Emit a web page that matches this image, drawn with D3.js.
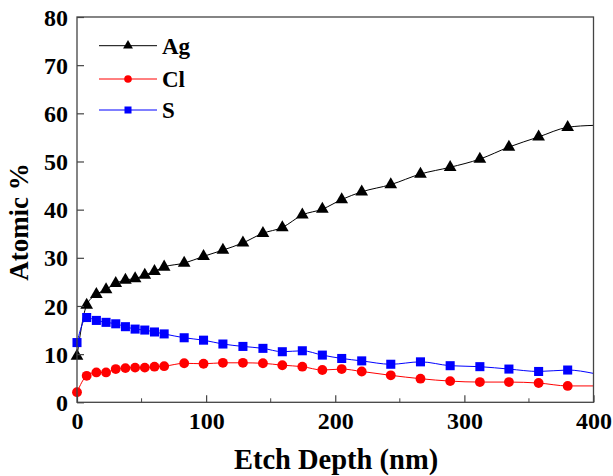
<!DOCTYPE html>
<html>
<head>
<meta charset="utf-8">
<script src="https://cdn.jsdelivr.net/npm/d3@7"></script>
<style>
  html, body { margin: 0; padding: 0; background: #fff; }
  svg { display: block; }
</style>
</head>
<body>
<svg id="chart" width="613" height="476"></svg>
<script>
// ---- data ----
const depth = [0, 7.5, 15, 22.5, 30, 37.5, 45, 52.5, 60, 67.5, 83, 98, 113, 128.5, 144, 159, 174.5, 190, 205, 220.5, 243, 266, 289, 312, 334.5, 357.5, 380, 400];
const agValues = [9.6, 20.2, 22.4, 23.4, 24.7, 25.4, 25.7, 26.4, 27.2, 28.1, 28.9, 30.3, 31.6, 33.1, 35.1, 36.3, 38.9, 40.1, 42.1, 43.7, 45.2, 47.4, 48.8, 50.5, 53.0, 55.1, 57.1, 57.5];
const clValues = [2.1, 5.5, 6.2, 6.2, 6.9, 7.1, 7.2, 7.2, 7.4, 7.5, 8.1, 8.0, 8.2, 8.2, 8.1, 7.7, 7.4, 6.7, 6.9, 6.4, 5.6, 4.9, 4.4, 4.2, 4.2, 4.0, 3.4, 3.4];
const sValues = [12.4, 17.6, 17.0, 16.6, 16.3, 15.7, 15.2, 15.0, 14.6, 14.2, 13.4, 12.9, 12.1, 11.6, 11.2, 10.5, 10.7, 9.8, 9.1, 8.6, 7.9, 8.4, 7.6, 7.4, 6.9, 6.4, 6.7, 6.0];
const seriesNames = ["Ag", "Cl", "S"];
const seriesColors = ["#000000", "#ff0000", "#0000ff"];
const seriesSymbols = ["triangle", "circle", "square"];
const xTicks = [0, 100, 200, 300, 400];
const xMinorTicks = [50, 150, 250, 350];
const yTicks = [0, 10, 20, 30, 40, 50, 60, 70, 80];
const xTitle = "Etch Depth (nm)";
const yTitle = "Atomic %";

// ---- layout ----
const svg = d3.select("#chart");
const L = 77, R = 593.5, T = 17, B = 402.3;
const x = d3.scaleLinear().domain([0, 400]).range([L, R]);
const y = d3.scaleLinear().domain([0, 80]).range([B, T]);
const font = "'Liberation Serif', 'Times New Roman', serif";
const axisColor = "#444";

const series = [agValues, clValues, sValues].map((vals, i) => ({
  name: seriesNames[i],
  color: seriesColors[i],
  symbol: seriesSymbols[i],
  points: depth.map((d, j) => ({ d, v: vals[j] }))
}));

const symbolType = { triangle: d3.symbolTriangle, circle: d3.symbolCircle, square: d3.symbolSquare };
const symbolSize = { triangle: 70, circle: 76, square: 82 };

svg.append("clipPath").attr("id", "clip")
  .append("rect").attr("x", L).attr("y", T).attr("width", R - L).attr("height", B - T);

const line = d3.line().x(p => x(p.d)).y(p => y(p.v)).curve(d3.curveMonotoneX);

const plot = svg.append("g").attr("clip-path", "url(#clip)");
series.forEach(s => {
  plot.append("path")
    .datum(s.points)
    .attr("d", line)
    .attr("fill", "none")
    .attr("stroke", s.color)
    .attr("stroke-width", 1);
});
series.forEach(s => {
  svg.append("g").selectAll("path")
    .data(s.points.filter(p => p.d < 400))
    .join("path")
    .attr("transform", p => `translate(${x(p.d)},${y(p.v)})`)
    .attr("d", d3.symbol().type(symbolType[s.symbol]).size(symbolSize[s.symbol]))
    .attr("fill", s.color);
});

// ---- axes ----
const xAxis = svg.append("g").attr("transform", `translate(0,${B})`)
  .call(d3.axisBottom(x).tickValues(xTicks).tickSizeInner(-7).tickSizeOuter(0).tickPadding(14).tickFormat(d3.format("d")));
xAxis.append("g").selectAll("line").data(xMinorTicks).join("line")
  .attr("x1", d => x(d)).attr("x2", d => x(d)).attr("y1", 0).attr("y2", -4)
  .attr("stroke", axisColor);

const yAxis = svg.append("g").attr("transform", `translate(${L},0)`)
  .call(d3.axisLeft(y).tickValues(yTicks).tickSizeInner(-7).tickSizeOuter(0).tickPadding(15).tickFormat(d3.format("d")));

[xAxis, yAxis].forEach(a => {
  a.select(".domain").remove();
  a.selectAll(".tick line").attr("stroke", axisColor).attr("stroke-width", 1.2);
  a.selectAll("text").attr("font-family", font).attr("font-weight", "bold")
    .attr("font-size", 24).attr("fill", "#000");
});
xAxis.selectAll(".tick text").attr("dy", "0.72em").attr("y", 9);
yAxis.selectAll(".tick text").attr("x", -9).attr("dy", "0.34em");
yAxis.selectAll(".tick line").attr("x2", 7);
xAxis.selectAll(".tick line").attr("y2", -7);

// frame
svg.append("rect").attr("x", L).attr("y", T).attr("width", R - L).attr("height", B - T)
  .attr("fill", "none").attr("stroke", axisColor).attr("stroke-width", 1.3);

// titles
svg.append("text").attr("x", 336).attr("y", 469)
  .attr("text-anchor", "middle").attr("font-family", font).attr("font-weight", "bold")
  .attr("font-size", 28.5).attr("fill", "#000").text(xTitle);
svg.append("text").attr("transform", `translate(28,${222}) rotate(-90)`)
  .attr("text-anchor", "middle").attr("font-family", font).attr("font-weight", "bold")
  .attr("font-size", 27).attr("fill", "#000").text(yTitle);

// legend
const legendY = [45.7, 79, 110];
const leg = svg.append("g");
series.forEach((s, i) => {
  const g = leg.append("g").attr("transform", `translate(0,${legendY[i]})`);
  g.append("line").attr("x1", 99).attr("x2", 157).attr("y1", 0).attr("y2", 0)
    .attr("stroke", s.color).attr("stroke-width", 1);
  g.append("path").attr("transform", "translate(128,0)")
    .attr("d", d3.symbol().type(symbolType[s.symbol]).size(symbolSize[s.symbol] * 0.6))
    .attr("fill", s.color);
  g.append("text").attr("x", 162).attr("y", 0).attr("dy", "0.35em")
    .attr("font-family", font).attr("font-weight", "bold").attr("font-size", 23)
    .attr("fill", "#000").text(s.name);
});
</script>
</body>
</html>
